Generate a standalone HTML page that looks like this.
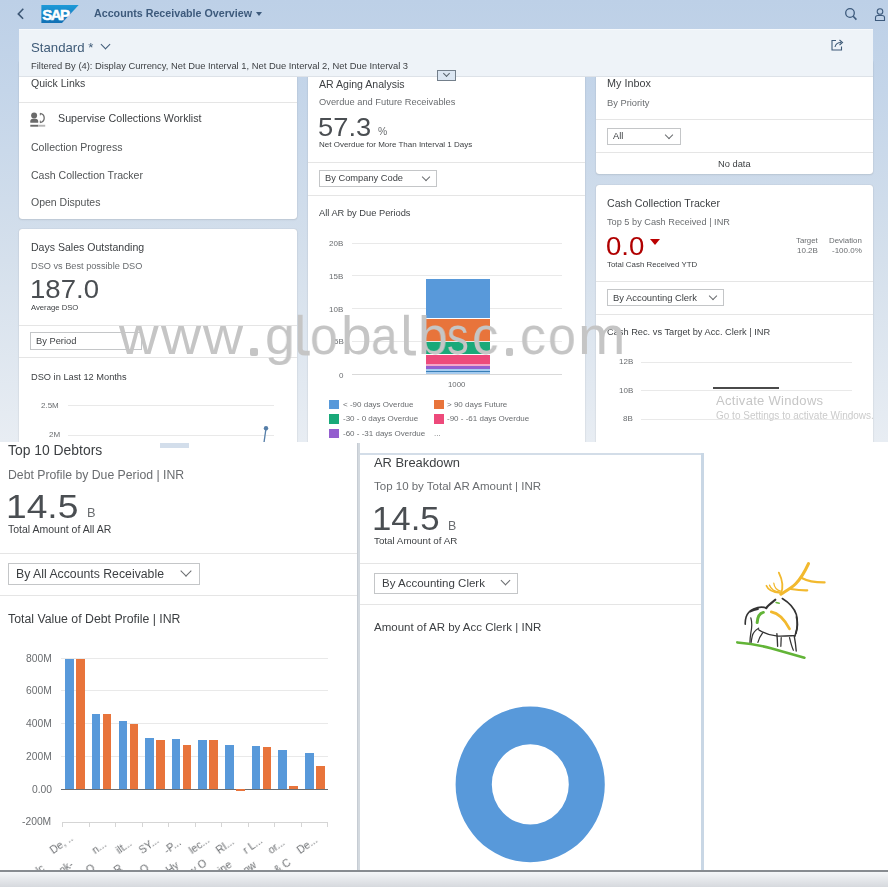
<!DOCTYPE html>
<html><head><meta charset="utf-8">
<style>
*{box-sizing:border-box;margin:0;padding:0}
html,body{width:888px;height:887px;overflow:hidden;background:#fff}
body{position:relative;font-family:"Liberation Sans",sans-serif;color:#3c3f42}
.a{position:absolute}
.t{position:absolute;will-change:transform;line-height:1;white-space:nowrap}
#top{position:absolute;left:0;top:0;width:888px;height:442px;overflow:hidden;
 background:linear-gradient(180deg,#bdd0e7 0px,#c4d5e9 90px,#d5e0ec 260px,#e8edf3 442px)}
.card{position:absolute;background:#fff;border-radius:3px;box-shadow:0 0 1px rgba(0,0,0,.25),0 1px 2px rgba(0,0,0,.08)}
.sep{position:absolute;left:0;right:0;height:1px;background:#e5e5e5}
.sel{position:absolute;border:1px solid #c4c6c8;background:#fff}
.chev{position:absolute;width:6px;height:6px;border-right:1px solid #6a6d70;border-bottom:1px solid #6a6d70;transform:rotate(45deg)}
.grid{position:absolute;height:1px;background:#e9e9e9}
.lbl{color:#6a6d70}
.wm{top:308.6px;font-size:54.5px;color:#c5c5c5;transform-origin:0 0}
#bot{position:absolute;left:0;top:442px;width:888px;height:445px;background:#fff;overflow:hidden}
</style></head>
<body>
<div id="top">
  <!-- shell header -->
  <svg class="a" style="left:0;top:0" width="30" height="28"><polyline points="23.3,8.8 18.3,13.9 23.1,18.8" fill="none" stroke="#3d5775" stroke-width="1.6"/></svg>
  <svg class="a" style="left:0;top:0" width="90" height="28"><defs><linearGradient id="sg" x1="0" y1="0" x2="0" y2="1"><stop offset="0" stop-color="#1e9ad8"/><stop offset="1" stop-color="#1270b4"/></linearGradient></defs>
    <polygon points="41.4,5 78.7,5 62,23.1 41.4,23.1" fill="url(#sg)"/>
    <text x="42.2" y="19.6" font-family="Liberation Sans" font-weight="bold" font-size="15" fill="#fff" stroke="#fff" stroke-width="0.5" letter-spacing="-1.5">SAP</text>
  </svg>
  <div class="t" style="left:94px;top:8.3px;font-size:10.7px;font-weight:bold;color:#3d5a7c">Accounts Receivable Overview</div>
  <div class="a" style="left:256px;top:11.5px;width:0;height:0;border-left:3px solid transparent;border-right:3px solid transparent;border-top:4px solid #3d5a7c"></div>
  <svg class="a" style="left:843.5px;top:7px" width="14" height="14" viewBox="0 0 14 14"><circle cx="6" cy="6" r="4.3" fill="none" stroke="#3d5a7c" stroke-width="1.3"/><line x1="9.2" y1="9.2" x2="12.4" y2="12.6" stroke="#3d5a7c" stroke-width="1.6"/></svg>
  <svg class="a" style="left:874px;top:7px" width="12" height="15" viewBox="0 0 12 15"><circle cx="6" cy="4.5" r="2.8" fill="none" stroke="#3d5a7c" stroke-width="1.1"/><path d="M1.5 13.5 V10.5 Q1.5 8.5 4 8.5 H8 Q10.5 8.5 10.5 10.5 V13.5 Z" fill="none" stroke="#3d5a7c" stroke-width="1.1"/></svg>

  <!-- cards -->
  <div class="card" style="left:19px;top:60px;width:278px;height:159px">
    <div class="t" style="left:11.8px;top:18.2px;font-size:10.5px;color:#3c3f42">Quick Links</div>
    <div class="sep" style="top:42px"></div>
    <svg class="a" style="left:11px;top:52px" width="17" height="16" viewBox="0 0 17 16"><circle cx="4.1" cy="3.4" r="3" fill="#6b6b6b"/><path d="M0.3 10.8 V9.3 Q0.3 6.8 3 6.8 H5.5 Q8.2 6.8 8.2 9.3 V10.8 Z" fill="#6b6b6b"/><path d="M10.2 1.4 Q14.2 2.2 14.2 6 Q14.2 9.8 10.2 10.6" fill="none" stroke="#6b6b6b" stroke-width="1.3"/><rect x="9.8" y="1.1" width="1" height="2.2" fill="#6b6b6b"/><rect x="9.8" y="8.6" width="1" height="2.2" fill="#6b6b6b"/><rect x="0.3" y="12.8" width="8" height="1.9" fill="#6b6b6b"/><rect x="8.3" y="12.8" width="6.9" height="1.9" fill="#b5b5b5"/></svg>
    <div class="t" style="left:39px;top:53.3px;font-size:10.7px;color:#3c3f42">Supervise Collections Worklist</div>
    <div class="t" style="left:12px;top:81.8px;font-size:10.55px;color:#515456">Collection Progress</div>
    <div class="t" style="left:12px;top:109.5px;font-size:10.55px;color:#515456">Cash Collection Tracker</div>
    <div class="t" style="left:12px;top:137.1px;font-size:10.5px;color:#515456">Open Disputes</div>
  </div>

  <div class="card" style="left:19px;top:228.5px;width:278px;height:240px">
    <div class="t" style="left:12px;top:13.3px;font-size:10.55px;color:#3c3f42">Days Sales Outstanding</div>
    <div class="t" style="left:12px;top:33.4px;font-size:9.2px;color:#6a6d70">DSO vs Best possible DSO</div>
    <div class="t" style="left:10.5px;top:48.9px;font-size:25.4px;transform:scaleX(1.086);transform-origin:0 0;color:#4a4e52">187.0</div>
    <div class="t" style="left:12px;top:75.5px;font-size:7.7px;color:#3c3f42">Average DSO</div>
    <div class="sep" style="top:96.5px"></div>
    <div class="sel" style="left:11.3px;top:103.8px;width:112px;height:17.6px"></div>
    <div class="t" style="left:17.4px;top:108px;font-size:9.3px;color:#3c3f42">By Period</div>
    <div class="sep" style="top:128.8px"></div>
    <div class="t" style="left:12px;top:144.3px;font-size:9.25px;color:#3c3f42">DSO in Last 12 Months</div>
    <div class="t lbl" style="left:22.4px;top:173px;font-size:8px">2.5M</div>
    <div class="grid" style="left:49px;top:176.5px;width:206px"></div>
    <div class="t lbl" style="left:30px;top:202.5px;font-size:8px">2M</div>
    <div class="grid" style="left:49px;top:206px;width:206px"></div>
    <svg class="a" style="left:240px;top:195px" width="12" height="22" viewBox="0 0 12 22"><line x1="7" y1="4.3" x2="4.5" y2="22" stroke="#557ea8" stroke-width="1.3"/><circle cx="7" cy="4.3" r="2.2" fill="#557ea8"/></svg>
  </div>

  <div class="card" style="left:308px;top:60px;width:277px;height:420px">
    <div class="t" style="left:10.7px;top:18.5px;font-size:10.55px;color:#3c3f42">AR Aging Analysis</div>
    <div class="t" style="left:10.7px;top:38.3px;font-size:9.3px;color:#6a6d70">Overdue and Future Receivables</div>
    <div class="t" style="left:10.2px;top:55.3px;font-size:25.4px;transform:scaleX(1.076);transform-origin:0 0;color:#4a4e52">57.3</div>
    <div class="t" style="left:69.7px;top:66.6px;font-size:10.4px;color:#6a6d70">%</div>
    <div class="t" style="left:10.7px;top:80.6px;font-size:8px;color:#3c3f42">Net Overdue for More Than Interval 1 Days</div>
    <div class="sep" style="top:102px"></div>
    <div class="sel" style="left:10.7px;top:109.7px;width:118px;height:17px"></div>
    <div class="t" style="left:16.8px;top:113.7px;font-size:9.3px;color:#3c3f42">By Company Code</div>
    <div class="chev" style="left:115px;top:113.5px"></div>
    <div class="sep" style="top:134.7px"></div>
    <div class="t" style="left:10.6px;top:149.2px;font-size:9.3px;color:#3c3f42">All AR by Due Periods</div>
    <!-- chart -->
    <div class="t lbl" style="left:21px;top:179.8px;font-size:8px">20B</div>
    <div class="grid" style="left:43.7px;top:182.5px;width:210px"></div>
    <div class="t lbl" style="left:21px;top:212.5px;font-size:8px">15B</div>
    <div class="grid" style="left:43.7px;top:215.2px;width:210px"></div>
    <div class="t lbl" style="left:21px;top:245.6px;font-size:8px">10B</div>
    <div class="grid" style="left:43.7px;top:248.3px;width:210px"></div>
    <div class="t lbl" style="left:26px;top:278.4px;font-size:8px">5B</div>
    <div class="grid" style="left:43.7px;top:281.1px;width:210px"></div>
    <div class="t lbl" style="left:31px;top:311.6px;font-size:8px">0</div>
    <div class="grid" style="left:43.7px;top:314.3px;width:210px;background:#d9d9d9"></div>
    <div class="a" style="left:117.5px;top:219.2px;width:64px;height:95px">
      <div class="a" style="left:0;top:0;width:64px;height:38.5px;background:#5899da"></div>
      <div class="a" style="left:0;top:39.8px;width:64px;height:22.5px;background:#e8743b"></div>
      <div class="a" style="left:0;top:63.2px;width:64px;height:11.6px;background:#19a979"></div>
      <div class="a" style="left:0;top:75.8px;width:64px;height:9px;background:#ed4a7b"></div>
      <div class="a" style="left:0;top:84.8px;width:64px;height:2px;background:#f3a6c8"></div>
      <div class="a" style="left:0;top:86.8px;width:64px;height:2.8px;background:#945ecf"></div>
      <div class="a" style="left:0;top:89.6px;width:64px;height:2px;background:#a6cbef"></div>
      <div class="a" style="left:0;top:91.6px;width:64px;height:1.2px;background:#3a80b8"></div>
      <div class="a" style="left:0;top:92.8px;width:64px;height:2px;background:#a6cbef"></div>
    </div>
    <div class="t lbl" style="left:140.3px;top:320.5px;font-size:7.8px">1000</div>
    <!-- legend -->
    <div class="a" style="left:21px;top:339.9px;width:9.5px;height:9.5px;background:#5899da"></div>
    <div class="t lbl" style="left:34.8px;top:341px;font-size:8px">&lt; -90 days Overdue</div>
    <div class="a" style="left:126px;top:339.9px;width:9.5px;height:9.5px;background:#e8743b"></div>
    <div class="t lbl" style="left:139.4px;top:341px;font-size:8px">&gt; 90 days Future</div>
    <div class="a" style="left:21px;top:354.2px;width:9.5px;height:9.5px;background:#19a979"></div>
    <div class="t lbl" style="left:34.8px;top:355.3px;font-size:8px">-30 - 0 days Overdue</div>
    <div class="a" style="left:126px;top:354.2px;width:9.5px;height:9.5px;background:#ed4a7b"></div>
    <div class="t lbl" style="left:139.4px;top:355.3px;font-size:8px">-90 - -61 days Overdue</div>
    <div class="a" style="left:21px;top:368.5px;width:9.5px;height:9.5px;background:#945ecf"></div>
    <div class="t lbl" style="left:34.8px;top:369.6px;font-size:8px">-60 - -31 days Overdue</div>
    <div class="t lbl" style="left:126px;top:369.6px;font-size:8px">...</div>
  </div>

  <div class="card" style="left:596px;top:60px;width:277px;height:114px">
    <div class="t" style="left:11px;top:18.3px;font-size:10.8px;color:#3c3f42">My Inbox</div>
    <div class="t" style="left:11px;top:38.8px;font-size:9.3px;color:#6a6d70">By Priority</div>
    <div class="sep" style="top:59.3px"></div>
    <div class="sel" style="left:10.7px;top:67.8px;width:74px;height:16.8px"></div>
    <div class="t" style="left:17px;top:71.8px;font-size:9.3px;color:#3c3f42">All</div>
    <div class="chev" style="left:70px;top:71.5px"></div>
    <div class="sep" style="top:91.8px"></div>
    <div class="t" style="left:122px;top:99.8px;font-size:9.3px;color:#3c3f42">No data</div>
  </div>

  <div class="card" style="left:596px;top:185px;width:277px;height:300px">
    <div class="t" style="left:11px;top:12.8px;font-size:10.65px;color:#3c3f42">Cash Collection Tracker</div>
    <div class="t" style="left:11px;top:33px;font-size:9.2px;color:#6a6d70">Top 5 by Cash Received | INR</div>
    <div class="t" style="left:9.9px;top:49px;font-size:25.8px;transform:scaleX(1.068);transform-origin:0 0;color:#b00000">0.0</div>
    <div class="a" style="left:54.4px;top:53.8px;width:0;height:0;border-left:5px solid transparent;border-right:5px solid transparent;border-top:6.5px solid #bb0000"></div>
    <div class="t" style="left:11px;top:75.6px;font-size:7.9px;color:#3c3f42">Total Cash Received YTD</div>
    <div class="t lbl" style="left:200.4px;top:51.8px;font-size:7.8px">Target</div>
    <div class="t lbl" style="left:233px;top:51.8px;font-size:7.9px">Deviation</div>
    <div class="t lbl" style="left:200.7px;top:62.2px;font-size:8px">10.2B</div>
    <div class="t lbl" style="left:236.3px;top:62.2px;font-size:8px">-100.0%</div>
    <div class="sep" style="top:96.2px"></div>
    <div class="sel" style="left:11px;top:104.1px;width:117.2px;height:17px"></div>
    <div class="t" style="left:17px;top:108px;font-size:9.4px;color:#3c3f42">By Accounting Clerk</div>
    <div class="chev" style="left:114px;top:107.8px"></div>
    <div class="sep" style="top:129px"></div>
    <div class="t" style="left:11px;top:142.7px;font-size:9.26px;color:#3c3f42">Cash Rec. vs Target by Acc. Clerk | INR</div>
    <div class="t lbl" style="left:22.7px;top:173.2px;font-size:8px">12B</div>
    <div class="grid" style="left:44.6px;top:176.6px;width:211px"></div>
    <div class="t lbl" style="left:22.7px;top:202px;font-size:8px">10B</div>
    <div class="grid" style="left:44.6px;top:205.4px;width:211px"></div>
    <div class="t lbl" style="left:27px;top:230.1px;font-size:8px">8B</div>
    <div class="grid" style="left:44.6px;top:233.5px;width:211px"></div>
    <div class="a" style="left:117.4px;top:202.3px;width:65.5px;height:1.6px;background:#4a4a4a"></div>
  </div>

  <!-- filter bar (over cards) -->
  <div class="a" style="left:19px;top:28.5px;width:854px;height:47.7px;background:#eef3f8;box-shadow:inset 0 1px 0 #f6f9fc,0 1px 0 #dde2e8">
    <div class="t" style="left:12px;top:12.8px;font-size:13.2px;color:#3f5b78">Standard *</div>
    <div class="chev" style="left:82.5px;top:12.8px;width:7px;height:7px;border-color:#3f5b78"></div>
    <div class="t" style="left:12px;top:32.8px;font-size:9.4px;color:#3c3f42">Filtered By (4): Display Currency, Net Due Interval 1, Net Due Interval 2, Net Due Interval 3</div>
    <svg class="a" style="left:812px;top:10.5px" width="13" height="12" viewBox="0 0 13 12"><path d="M5 1.5 H1 V11 H10.5 V7.5" fill="none" stroke="#3f5b78" stroke-width="1.1"/><path d="M4 8 Q5 3.5 10 3.5" fill="none" stroke="#3f5b78" stroke-width="1.1"/><path d="M8.5 1 L11.5 3.5 L8.5 6" fill="none" stroke="#3f5b78" stroke-width="1.1"/></svg>
  </div>
  <!-- collapse button -->
  <div class="a" style="left:436.7px;top:70.2px;width:19.2px;height:10.6px;background:#dbe6f2;border:1px solid #737f8b"></div>
  <div class="chev" style="left:443.6px;top:71.4px;width:5px;height:5px;border-color:#56616c;border-width:0 1.3px 1.3px 0"></div>
</div>

<!-- bottom screenshot -->
<div id="bot">
  <div class="a" style="left:160.4px;top:1.2px;width:28.6px;height:4.4px;background:#d3deeb"></div>
  <div class="t" style="left:8px;top:1.6px;font-size:13.9px;color:#3c3f42">Top 10 Debtors</div>
  <div class="t" style="left:8px;top:27.2px;font-size:12.26px;color:#6a6d70">Debt Profile by Due Period | INR</div>
  <div class="t" style="left:5.5px;top:47.4px;font-size:34px;transform:scaleX(1.094);transform-origin:0 0;color:#4a4e52">14.5</div>
  <div class="t" style="left:87.3px;top:65.4px;font-size:12.8px;color:#6a6d70">B</div>
  <div class="t" style="left:8px;top:82px;font-size:10.5px;color:#3c3f42">Total Amount of All AR</div>
  <div class="a" style="left:0;top:110.5px;width:357px;height:1px;background:#e5e5e5"></div>
  <div class="sel" style="left:7.5px;top:120.9px;width:192.5px;height:21.7px"></div>
  <div class="t" style="left:15.8px;top:125.9px;font-size:12.27px;color:#3c3f42">By All Accounts Receivable</div>
  <div class="chev" style="left:182px;top:124.7px;width:8px;height:8px"></div>
  <div class="a" style="left:0;top:153px;width:357px;height:1px;background:#e5e5e5"></div>
  <div class="t" style="left:8px;top:170.9px;font-size:12.3px;color:#3c3f42">Total Value of Debt Profile | INR</div>
  <div class="grid" style="left:60.8px;top:215.8px;width:267px"></div>
  <div class="grid" style="left:60.8px;top:248.3px;width:267px"></div>
  <div class="grid" style="left:60.8px;top:281.1px;width:267px"></div>
  <div class="grid" style="left:60.8px;top:314.4px;width:267px"></div>
  <div class="a" style="left:60.8px;top:347.2px;width:267px;height:1px;background:#6a6d70"></div>
  <div class="a" style="left:62px;top:379.7px;width:265px;height:1px;background:#d5d5d5"></div>
  <div class="a" style="left:62.0px;top:379.7px;width:1px;height:5px;background:#d5d5d5"></div>
  <div class="a" style="left:88.5px;top:379.7px;width:1px;height:5px;background:#d5d5d5"></div>
  <div class="a" style="left:115.0px;top:379.7px;width:1px;height:5px;background:#d5d5d5"></div>
  <div class="a" style="left:141.5px;top:379.7px;width:1px;height:5px;background:#d5d5d5"></div>
  <div class="a" style="left:168.0px;top:379.7px;width:1px;height:5px;background:#d5d5d5"></div>
  <div class="a" style="left:194.5px;top:379.7px;width:1px;height:5px;background:#d5d5d5"></div>
  <div class="a" style="left:221.0px;top:379.7px;width:1px;height:5px;background:#d5d5d5"></div>
  <div class="a" style="left:247.5px;top:379.7px;width:1px;height:5px;background:#d5d5d5"></div>
  <div class="a" style="left:274.0px;top:379.7px;width:1px;height:5px;background:#d5d5d5"></div>
  <div class="a" style="left:300.5px;top:379.7px;width:1px;height:5px;background:#d5d5d5"></div>
  <div class="a" style="left:327.0px;top:379.7px;width:1px;height:5px;background:#d5d5d5"></div>
  <div class="t lbl" style="right:836.4px;top:211.6px;font-size:10.3px">800M</div>
  <div class="t lbl" style="right:836.4px;top:244.3px;font-size:10.3px">600M</div>
  <div class="t lbl" style="right:836.4px;top:277.1px;font-size:10.3px">400M</div>
  <div class="t lbl" style="right:836.4px;top:309.6px;font-size:10.3px">200M</div>
  <div class="t lbl" style="right:836.4px;top:342.6px;font-size:10.3px">0.00</div>
  <div class="t lbl" style="right:836.4px;top:375.4px;font-size:10.3px">-200M</div>
  <div class="a" style="left:65.3px;top:216.6px;width:8.5px;height:130.6px;background:#5899da"></div>
  <div class="a" style="left:76.3px;top:216.6px;width:8.5px;height:130.6px;background:#e8743b"></div>
  <div class="a" style="left:91.9px;top:272.0px;width:8.5px;height:75.2px;background:#5899da"></div>
  <div class="a" style="left:102.9px;top:272.0px;width:8.5px;height:75.2px;background:#e8743b"></div>
  <div class="a" style="left:118.6px;top:278.5px;width:8.5px;height:68.7px;background:#5899da"></div>
  <div class="a" style="left:129.6px;top:282.1px;width:8.5px;height:65.1px;background:#e8743b"></div>
  <div class="a" style="left:145.2px;top:295.9px;width:8.5px;height:51.3px;background:#5899da"></div>
  <div class="a" style="left:156.2px;top:297.7px;width:8.5px;height:49.5px;background:#e8743b"></div>
  <div class="a" style="left:171.8px;top:297.3px;width:8.5px;height:49.9px;background:#5899da"></div>
  <div class="a" style="left:182.8px;top:302.8px;width:8.5px;height:44.4px;background:#e8743b"></div>
  <div class="a" style="left:198.4px;top:298.0px;width:8.5px;height:49.2px;background:#5899da"></div>
  <div class="a" style="left:209.4px;top:298.0px;width:8.5px;height:49.2px;background:#e8743b"></div>
  <div class="a" style="left:225.1px;top:303.4px;width:8.5px;height:43.8px;background:#5899da"></div>
  <div class="a" style="left:236.1px;top:347.2px;width:8.5px;height:1.8px;background:#e8743b"></div>
  <div class="a" style="left:251.7px;top:304.0px;width:8.5px;height:43.2px;background:#5899da"></div>
  <div class="a" style="left:262.7px;top:304.8px;width:8.5px;height:42.4px;background:#e8743b"></div>
  <div class="a" style="left:278.3px;top:308.0px;width:8.5px;height:39.2px;background:#5899da"></div>
  <div class="a" style="left:289.3px;top:344.4px;width:8.5px;height:2.8px;background:#e8743b"></div>
  <div class="a" style="left:305.0px;top:310.5px;width:8.5px;height:36.7px;background:#5899da"></div>
  <div class="a" style="left:316.0px;top:323.7px;width:8.5px;height:23.5px;background:#e8743b"></div>
  <div class="t lbl" style="left:54.1px;top:403px;font-size:10.5px;transform:rotate(-35deg);transform-origin:0 100%">De, ..</div>
  <div class="t lbl" style="left:95.5px;top:403px;font-size:10.5px;transform:rotate(-35deg);transform-origin:0 100%">n...</div>
  <div class="t lbl" style="left:120.1px;top:403px;font-size:10.5px;transform:rotate(-35deg);transform-origin:0 100%">ilt...</div>
  <div class="t lbl" style="left:142.5px;top:403px;font-size:10.5px;transform:rotate(-35deg);transform-origin:0 100%">SY...</div>
  <div class="t lbl" style="left:167.5px;top:403px;font-size:10.5px;transform:rotate(-35deg);transform-origin:0 100%">-P...</div>
  <div class="t lbl" style="left:192.9px;top:403px;font-size:10.5px;transform:rotate(-35deg);transform-origin:0 100%">lec...</div>
  <div class="t lbl" style="left:219.9px;top:403px;font-size:10.5px;transform:rotate(-35deg);transform-origin:0 100%">RI...</div>
  <div class="t lbl" style="left:246.9px;top:403px;font-size:10.5px;transform:rotate(-35deg);transform-origin:0 100%">r L...</div>
  <div class="t lbl" style="left:272.1px;top:403px;font-size:10.5px;transform:rotate(-35deg);transform-origin:0 100%">or...</div>
  <div class="t lbl" style="left:301.0px;top:403px;font-size:10.5px;transform:rotate(-35deg);transform-origin:0 100%">De...</div>
  <div class="t lbl" style="left:39.5px;top:422.5px;font-size:10.5px;transform:rotate(-35deg);transform-origin:0 100%">lc</div>
  <div class="t lbl" style="left:63.1px;top:422.5px;font-size:10.5px;transform:rotate(-35deg);transform-origin:0 100%">ok-</div>
  <div class="t lbl" style="left:90.2px;top:422.5px;font-size:10.5px;transform:rotate(-35deg);transform-origin:0 100%">O</div>
  <div class="t lbl" style="left:117.9px;top:422.5px;font-size:10.5px;transform:rotate(-35deg);transform-origin:0 100%">R</div>
  <div class="t lbl" style="left:144.2px;top:422.5px;font-size:10.5px;transform:rotate(-35deg);transform-origin:0 100%">O</div>
  <div class="t lbl" style="left:169.5px;top:422.5px;font-size:10.5px;transform:rotate(-35deg);transform-origin:0 100%">Hy</div>
  <div class="t lbl" style="left:194.5px;top:422.5px;font-size:10.5px;transform:rotate(-35deg);transform-origin:0 100%">y O</div>
  <div class="t lbl" style="left:221.5px;top:422.5px;font-size:10.5px;transform:rotate(-35deg);transform-origin:0 100%">ine</div>
  <div class="t lbl" style="left:246.5px;top:422.5px;font-size:10.5px;transform:rotate(-35deg);transform-origin:0 100%">ow</div>
  <div class="t lbl" style="left:277.5px;top:422.5px;font-size:10.5px;transform:rotate(-35deg);transform-origin:0 100%">&amp; C</div>
  <!-- divider -->
  <div class="a" style="left:357px;top:1.1px;width:3.3px;height:430px;background:#d3d9df;border-left:1px solid #c6ccd3"></div>
  <!-- AR breakdown panel -->
  <div class="a" style="left:360.3px;top:10.6px;width:343.5px;height:2px;background:#d3dde8"></div>
  <div class="a" style="left:700.7px;top:10.6px;width:3px;height:420px;background:#c9d7e5"></div>
  <div class="t" style="left:374.4px;top:14.8px;font-size:12.9px;color:#3c3f42">AR Breakdown</div>
  <div class="t" style="left:374.4px;top:39.1px;font-size:11.5px;color:#6a6d70">Top 10 by Total AR Amount | INR</div>
  <div class="t" style="left:371.8px;top:59.8px;font-size:33.2px;transform:scaleX(1.048);transform-origin:0 0;color:#4a4e52">14.5</div>
  <div class="t" style="left:447.8px;top:77.5px;font-size:12.4px;color:#6a6d70">B</div>
  <div class="t" style="left:374.4px;top:93.7px;font-size:9.8px;color:#3c3f42">Total Amount of AR</div>
  <div class="a" style="left:360.3px;top:121.3px;width:340.4px;height:1px;background:#e5e5e5"></div>
  <div class="sel" style="left:374.2px;top:130.9px;width:144.1px;height:21.3px"></div>
  <div class="t" style="left:382px;top:135.8px;font-size:11.5px;color:#3c3f42">By Accounting Clerk</div>
  <div class="chev" style="left:501.5px;top:134.5px;width:7px;height:7px"></div>
  <div class="a" style="left:360.3px;top:162.2px;width:340.4px;height:1px;background:#e5e5e5"></div>
  <div class="t" style="left:374.4px;top:180.3px;font-size:11.5px;color:#3c3f42">Amount of AR by Acc Clerk | INR</div>
  <svg class="a" style="left:0;top:0" width="888" height="445"><path fill="#5899da" fill-rule="evenodd" d="M455.6 342.4 a74.6 77.8 0 1 0 149.2 0 a74.6 77.8 0 1 0 -149.2 0 Z M491.8 342.4 a38.5 40.2 0 1 0 77 0 a38.5 40.2 0 1 0 -77 0 Z"/></svg>
  <svg class="a" style="left:730px;top:113px" width="110" height="110" viewBox="0 0 887 887">
    <g fill="none" stroke-linecap="round" stroke-linejoin="round">
      <path d="M59,705 C150,712 250,730 330,752 C430,780 520,805 600,828" stroke="#62b437" stroke-width="21"/>
      <path d="M410,316 C450,290 495,268 530,232 C570,190 605,130 633,69" stroke="#f2b92e" stroke-width="25"/>
      <path d="M573,183 C625,210 690,222 763,221" stroke="#f2b92e" stroke-width="17"/>
      <path d="M490,274 C540,282 585,286 623,285" stroke="#f2b92e" stroke-width="17"/>
      <path d="M410,316 C425,280 430,215 394,142" stroke="#f2b92e" stroke-width="15"/>
      <path d="M293,247 C310,290 355,302 405,305" stroke="#f2b92e" stroke-width="13"/>
      <path d="M319,244 C330,280 368,296 405,300" stroke="#f2b92e" stroke-width="11"/>
      <path d="M353,227 C358,262 380,285 408,292" stroke="#f2b92e" stroke-width="10"/>
      <path d="M333,459 C397,470 440,520 480,596" stroke="#f2b92e" stroke-width="22"/>
      <path d="M269,463 C240,470 222,495 219,545" stroke="#62b437" stroke-width="24"/>
      <path d="M371,383 L397,389" stroke="#62b437" stroke-width="11"/>
      <path d="M365,361 C340,385 305,405 292,428" stroke="#333" stroke-width="18"/>
      <path d="M422,351 C470,380 515,420 535,480 C548,530 542,600 524,654" stroke="#333" stroke-width="13"/>
      <path d="M536,500 C546,540 545,590 532,630" stroke="#333" stroke-width="14"/>
      <path d="M292,428 C270,418 225,420 190,436 C160,450 140,470 130,500 C124,520 122,540 123,558" stroke="#333" stroke-width="13"/>
      <path d="M165,455 C185,445 205,440 225,436" stroke="#333" stroke-width="17"/>
      <path d="M231,603 C260,620 300,648 384,654 C430,656 480,652 518,650" stroke="#333" stroke-width="11"/>
      <path d="M231,590 C205,605 185,630 180,653 C175,675 172,690 171,704" stroke="#333" stroke-width="10"/>
      <path d="M168,507 C178,540 178,580 168,628 C163,660 161,685 161,704" stroke="#333" stroke-width="10"/>
      <path d="M263,628 C250,645 235,670 225,704" stroke="#333" stroke-width="10"/>
      <path d="M378,634 C381,670 383,700 384,736" stroke="#333" stroke-width="11"/>
      <path d="M413,666 L410,736" stroke="#333" stroke-width="10"/>
      <path d="M480,666 C488,700 497,736 511,768" stroke="#333" stroke-width="10"/>
      <path d="M518,654 C525,690 531,735 534,774" stroke="#333" stroke-width="11"/>
    </g>
  </svg>
  <!-- bottom strip -->
  <div class="a" style="left:0;top:427.9px;width:888px;height:2px;background:#878b90"></div>
  <div class="a" style="left:0;top:429.9px;width:888px;height:16px;background:linear-gradient(180deg,#f4f6f8,#d4d7dc)"></div>
</div>

<div id="wm">
<div class="t wm" style="left:119.2px;transform:scaleX(1.005)">w</div>
<div class="t wm" style="left:161.2px;transform:scaleX(1.018)">w</div>
<div class="t wm" style="left:202.9px;transform:scaleX(1.018)">w</div>
<div class="a" style="left:250.2px;top:347.5px;width:8.1px;height:8.3px;border-radius:2px;background:#c5c5c5"></div>
<div class="t wm" style="left:264.8px;transform:scaleX(0.984)">g</div>
<svg class="a" style="left:0;top:0;overflow:visible" width="1" height="1"><path d="M300.2 314.8 V349 Q300.2 353.2 305.2 353.2 H309.7" fill="none" stroke="#c5c5c5" stroke-width="4.8"/></svg>
<div class="t wm" style="left:309.6px;transform:scaleX(0.914)">o</div>
<div class="t wm" style="left:340.5px;transform:scaleX(1.012)">b</div>
<div class="t wm" style="left:371.3px;transform:scaleX(0.871)">a</div>
<svg class="a" style="left:0;top:0;overflow:visible" width="1" height="1"><path d="M406.4 314.8 V349 Q406.4 353.2 411.4 353.2 H415.9" fill="none" stroke="#c5c5c5" stroke-width="4.8"/></svg>
<div class="t wm" style="left:418.0px;transform:scaleX(0.984)">b</div>
<div class="t wm" style="left:446.5px;transform:scaleX(0.800)">s</div>
<div class="t wm" style="left:471.8px;transform:scaleX(0.970)">c</div>
<div class="a" style="left:505.5px;top:347.5px;width:7.1px;height:8.3px;border-radius:2px;background:#c5c5c5"></div>
<div class="t wm" style="left:520.0px;transform:scaleX(0.949)">c</div>
<div class="t wm" style="left:547.8px;transform:scaleX(0.918)">o</div>
<div class="t wm" style="left:577.8px;transform:scaleX(1.045)">m</div>
</div>
<div class="t" style="left:715.5px;top:393.6px;font-size:13px;letter-spacing:0.3px;color:#c6c6c6">Activate Windows</div>
<div class="t" style="left:715.5px;top:410.5px;font-size:10px;color:#cbcbcb">Go to Settings to activate Windows.</div>
</body></html>
